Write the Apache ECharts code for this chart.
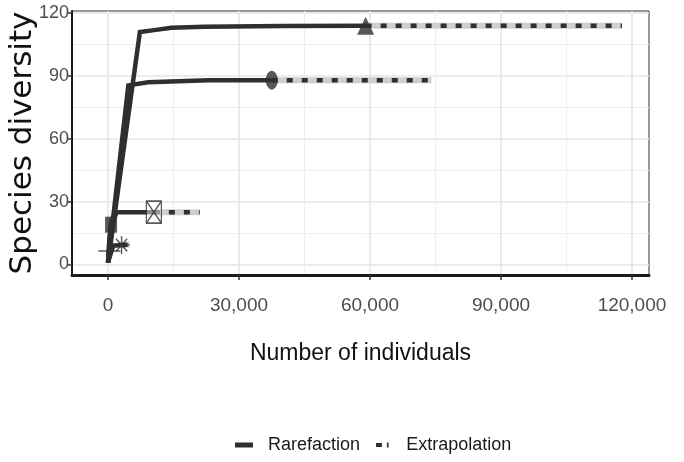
<!DOCTYPE html>
<html>
<head>
<meta charset="utf-8">
<script src="https://cdn.jsdelivr.net/npm/echarts@6/dist/echarts.min.js"></script>
<style>
  html, body { margin: 0; padding: 0; background: #fff; }
  #chart { width: 684px; height: 462px; }
</style>
</head>
<body>
<div id="chart"></div>
<script>
// Sample-size based rarefaction / extrapolation curves for six assemblages.
// Each assemblage: rarefied curve up to the observed sample, the observed point, then extrapolation.

// Assemblage A (triangle)
const rareAx = [0, 7300, 11000, 14500, 22000, 40000, 59000];
const rareAy = [1, 111, 112, 113, 113.5, 113.8, 114];
const obsA = [59000, 114];
const extAx = [59000, 80000, 100000, 117700];
const extAy = [114, 114, 114, 114];

// Assemblage B (circle)
const rareBx = [0, 4650, 9200, 23000, 37500];
const rareBy = [1, 85.5, 87, 88, 88];
const obsB = [37500, 88];
const extBx = [37500, 55000, 74100];
const extBy = [88, 88, 88];

// Assemblage C (boxed cross)
const rareCx = [0, 600, 2000, 10500];
const rareCy = [1, 18, 25, 25];
const obsC = [10500, 25];
const extCx = [10500, 15000, 21000];
const extCy = [25, 25, 25];

// Assemblage D (filled square)
const rareDx = [0, 300, 700];
const rareDy = [1, 12, 19];
const obsD = [700, 19];
const extDx = [700, 1000, 1400];
const extDy = [19, 22, 23.5];

// Assemblage E (asterisk)
const rareEx = [0, 1200, 3100];
const rareEy = [1, 9, 9.3];
const obsE = [3100, 9.3];
const extEx = [3100, 5000];
const extEy = [9.3, 9.5];

// Assemblage F (plus)
const rareFx = [0, 300];
const rareFy = [1, 6.4];
const obsF = [300, 6.4];
const extFx = [300, 700];
const extFy = [6.4, 6.6];

// Axis ticks
const xTicks = [0, 30000, 60000, 90000, 120000];
const xMinor = [15000, 45000, 75000, 105000];
const yTicks = [0, 30, 60, 90, 120];
const yMinor = [15, 45, 75, 105];

const INK = '#2f2f2f';
const FONT = 'Liberation Sans';
const zip = (xs, ys) => xs.map((x, i) => [x, ys[i]]);

const symbols = {
  triangle: 'triangle',
  circle: 'circle',
  boxcross: 'path://M0,0 L10,0 L10,10 L0,10 Z M0,0 L10,10 M10,0 L0,10',
  square: 'rect',
  asterisk: 'path://M5,0 L5,10 M0,5 L10,5 M1.5,1.5 L8.5,8.5 M8.5,1.5 L1.5,8.5',
  plus: 'path://M5,0 L5,10 M0,5 L10,5'
};

const groups = [
  { rare: zip(rareAx, rareAy), obs: obsA, ext: zip(extAx, extAy), sym: symbols.triangle, size: [17, 18], filled: true },
  { rare: zip(rareBx, rareBy), obs: obsB, ext: zip(extBx, extBy), sym: symbols.circle, size: [12, 19], filled: true },
  { rare: zip(rareCx, rareCy), obs: obsC, ext: zip(extCx, extCy), sym: symbols.boxcross, size: [15, 22], filled: false },
  { rare: zip(rareDx, rareDy), obs: obsD, ext: zip(extDx, extDy), sym: symbols.square, size: [12, 16], filled: true },
  { rare: zip(rareEx, rareEy), obs: obsE, ext: zip(extEx, extEy), sym: symbols.asterisk, size: [16, 18], filled: false },
  { rare: zip(rareFx, rareFy), obs: obsF, ext: zip(extFx, extFy), sym: symbols.plus, size: [22, 22], filled: false }
];

const series = [];
// confidence band behind the extrapolated part
groups.forEach(g => {
  series.push({
    type: 'line', data: g.ext, showSymbol: false, silent: true, z: 1,
    lineStyle: { color: '#cfcfcf', width: 6 }
  });
});
groups.forEach(g => {
  series.push({
    name: 'Extrapolation', type: 'line', data: g.ext, showSymbol: false, z: 2,
    lineStyle: { color: INK, width: 4.5, type: [6, 9], cap: 'butt' },
    itemStyle: { color: INK }
  });
});
groups.forEach(g => {
  series.push({
    name: 'Rarefaction', type: 'line', data: g.rare, showSymbol: false, z: 3,
    lineStyle: { color: INK, width: 4.5, join: 'miter' },
    itemStyle: { color: INK }
  });
});
groups.forEach(g => {
  series.push({
    type: 'scatter', data: [g.obs], symbol: g.sym, symbolSize: g.size, z: 4, silent: true,
    itemStyle: g.filled
      ? { color: INK }
      : { color: 'rgba(255,255,255,0.6)', borderColor: INK, borderWidth: 1.5 }
  });
});

const chart = echarts.init(document.getElementById('chart'), null, { renderer: 'canvas' });
chart.setOption({
  animation: false,
  backgroundColor: '#ffffff',
  grid: {
    left: 72, right: 35, top: 11, bottom: 187,
    outerBoundsMode: 'none', containLabel: false,
    show: true, borderColor: '#333', borderWidth: 1, backgroundColor: 'transparent'
  },
  legend: {
    top: 431, left: 230,
    itemWidth: 18, itemHeight: 5, itemGap: 16,
    textStyle: { fontFamily: FONT, fontSize: 18, color: '#1a1a1a', padding: [0, 0, 0, 10] },
    data: [
      { name: 'Rarefaction', icon: 'path://M0,0 H18 V5 H0 Z' },
      { name: 'Extrapolation', icon: 'path://M0,0.5 H7 V5.5 H0 Z M13,0 H15 V6 H13 Z' }
    ]
  },
  xAxis: [
    {
      type: 'value', min: -8250, max: 123900,
      name: 'Number of individuals', nameLocation: 'middle', nameGap: 67, nameMoveOverlap: false,
      nameTextStyle: { fontFamily: FONT, fontSize: 23, color: '#111' },
      axisLine: { show: true, onZero: false, lineStyle: { color: '#1a1a1a', width: 3 } },
      axisTick: { show: true, length: 5, customValues: xTicks, lineStyle: { color: '#333', width: 1.5 } },
      axisLabel: {
        customValues: xTicks, margin: 21,
        fontFamily: FONT, fontSize: 19, color: '#4d4d4d',
        formatter: v => v.toLocaleString('en-US')
      },
      splitLine: { show: true, lineStyle: { color: '#e6e6e6', width: 1.6 } }
    },
    {
      type: 'value', min: -8250, max: 123900, position: 'bottom',
      axisLine: { show: false }, axisLabel: { show: false },
      axisTick: { show: false, customValues: xMinor },
      splitLine: { show: true, lineStyle: { color: '#eeeeee', width: 1 } }
    }
  ],
  yAxis: [
    {
      type: 'value', min: -5, max: 121,
      name: 'Species diversity', nameLocation: 'middle', nameGap: 34, nameMoveOverlap: false,
      nameTextStyle: { fontFamily: 'DejaVu Sans', fontSize: 31, color: '#111' },
      axisLine: { show: true, onZero: false, lineStyle: { color: '#1a1a1a', width: 2 } },
      axisTick: { show: true, length: 5, customValues: yTicks, lineStyle: { color: '#333', width: 1.5 } },
      axisLabel: {
        customValues: yTicks, margin: 3,
        fontFamily: FONT, fontSize: 18, color: '#4d4d4d'
      },
      splitLine: { show: true, lineStyle: { color: '#e6e6e6', width: 1.6 } }
    },
    {
      type: 'value', min: -5, max: 121, position: 'left',
      axisLine: { show: false }, axisLabel: { show: false },
      axisTick: { show: false, customValues: yMinor },
      splitLine: { show: true, lineStyle: { color: '#eeeeee', width: 1 } }
    }
  ],
  series: series
});
</script>
</body>
</html>
